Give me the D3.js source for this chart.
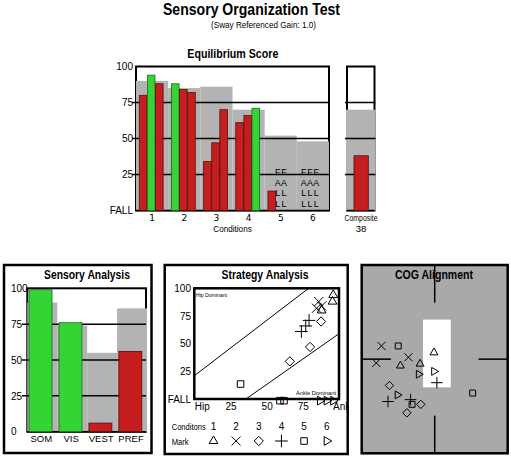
<!DOCTYPE html>
<html><head><meta charset="utf-8">
<script src="https://cdn.jsdelivr.net/npm/d3@7"></script>
<style>
body{margin:0;background:#fff}
text{font-family:"Liberation Sans Narrow","Arial Narrow","Liberation Sans",Arial,sans-serif}
</style></head><body>
<svg id="c" width="511" height="459"></svg>
<script>
// ---------------- DATA ----------------
const conditions = ["1","2","3","4","5","6"];
const normScores = [90, 85, 86, 70, 52, 48];
// null = FALL
const trialScores = [[80,94,88],[88,84,82],[34,47,70],[61,66,71],[13.5,null,null],[null,null,null]];
const compositeLabel = "Composite";
const compositeScore = 38;
const compositeNorm = 70;
const eqTicks = [0,25,50,75,100];
const eqTickLabels = ["FALL","25","50","75","100"];

const sensoryCats = ["SOM","VIS","VEST","PREF"];
const sensoryValues = [99, 76, 6, 56];
const sensoryNorms = [90, 74, 55, 86];
const sensoryTicks = [0,25,50,75,100];

// strategy score per condition/trial (x); equilibrium score from trialScores (y)
const strategyScores = [[88,96,95.5],[86,88,84.5],[66,80,87.6],[74,77,79.3],[32,59.2,62],[86.9,91.5,96]];
const stratXTicks = [0,25,50,75,100];
const stratXLabels = ["Hip","25","50","75","Ank"];
const stratYTicks = [0,25,50,75,100];
const stratYLabels = ["FALL","25","50","75","100"];
const hipBoundary = [[0,21],[79,100]];
const ankleBoundary = [[35.7,0],[100,59]];
const legendConditions = ["1","2","3","4","5","6"];

// COG positions per condition/trial
const cogX = [[-4.7,-2.0,-0.1],[-7.3,-8.0,-3.6],[-6.2,-1.9,-3.8],[-6.4,-3.3,0.3],[-5.0,-3.1,5.2],[-2.2,-5.1,-0.1]];
const cogY = [[-0.7,-0.5,0.7],[1.4,-0.4,0.2],[-2.8,-4.8,-5.7],[-4.5,-4.3,-2.5],[1.4,-4.8,-3.6],[-1.6,-3.8,-1.3]];
const cogLimitX = [-1.6, 2.2];
const cogLimitY = [-3.0, 4.2];
const cogCross = [-10, -6, 6, 10];

// ---------------- DRAW ----------------
const svg = d3.select("#c");
const RED="#c41e1e", RED_S="#5a0c0c", GREEN="#35d435", GREEN_S="#1d6b1d", GRAY="#b3b3b3";

function txt(g, x, y, s, size, opts={}) {
  const t = g.append("text").attr("x",x).attr("y",y).text(s)
    .attr("font-size",size).attr("text-anchor",opts.anchor||"middle")
    .attr("dominant-baseline","central").attr("fill","#000");
  if (opts.bold) t.attr("font-weight","bold");
  if (opts.len) t.attr("textLength",opts.len).attr("lengthAdjust","spacingAndGlyphs");
  if (opts.family) t.style("font-family",opts.family);
  return t;
}

txt(svg, 251.5, 9, "Sensory Organization Test", 16, {bold:true,len:177});
txt(svg, 263.5, 25, "(Sway Referenced Gain: 1.0)", 9, {len:105});
txt(svg, 232.8, 54, "Equilibrium Score", 12.5, {bold:true,len:91});

// --- Equilibrium score chart
const x = d3.scaleBand().domain(conditions).range([136,329]);
const y = d3.scaleLinear().domain([0,100]).range([210.5,66.5]);
const inner = d3.scaleBand().domain([0,1,2]).range([3.3,27.6]);
const eq = svg.append("g");
eq.append("rect").attr("x",x.range()[0]).attr("y",y(100)).attr("width",x.range()[1]-x.range()[0])
  .attr("height",y(0)-y(100)).attr("fill","#fff").attr("stroke","#000").attr("stroke-width",2);
eq.selectAll(".norm").data(conditions).join("rect")
  .attr("x",d=>x(d)).attr("width",x.bandwidth()).attr("y",(d,i)=>y(normScores[i]))
  .attr("height",(d,i)=>y(0)-y(normScores[i])).attr("fill",GRAY);
// composite panel
const xc = d3.scaleBand().domain([compositeLabel]).range([347,374.5]);
eq.append("rect").attr("x",xc(compositeLabel)).attr("y",y(100)).attr("width",xc.bandwidth())
  .attr("height",y(0)-y(100)).attr("fill","#fff").attr("stroke","#000").attr("stroke-width",2);
eq.append("rect").attr("x",xc(compositeLabel)-1).attr("width",xc.bandwidth()+2).attr("y",y(compositeNorm))
  .attr("height",y(0)-y(compositeNorm)).attr("fill",GRAY);
// grid lines
[25,50,75].forEach(v=>{
  eq.append("line").attr("x1",132).attr("x2",x.range()[1]).attr("y1",y(v)).attr("y2",y(v)).attr("stroke","#000").attr("stroke-width",1.5);
  eq.append("line").attr("x1",xc.range()[0]-2).attr("x2",xc.range()[1]+1).attr("y1",y(v)).attr("y2",y(v)).attr("stroke","#000").attr("stroke-width",1.5);
});
eq.append("line").attr("x1",x.range()[0]).attr("x2",x.range()[1]).attr("y1",y(0)).attr("y2",y(0)).attr("stroke","#000").attr("stroke-width",1.5);
eq.append("line").attr("x1",xc.range()[0]).attr("x2",xc.range()[1]).attr("y1",y(0)).attr("y2",y(0)).attr("stroke","#000").attr("stroke-width",1.5);
// trial bars
conditions.forEach((c,i)=>{
  trialScores[i].forEach((v,j)=>{
    if (v===null) {
      const lx = x(c) + 7 + 6.2*j;
      ["F","A","L","L"].forEach((ch,k)=>{
        txt(eq, lx, y(0)-6.5-10.7*(3-k), ch, 9, {family:'"Liberation Sans",Arial,sans-serif'});
      });
    } else {
      const g = v >= normScores[i];
      eq.append("rect").attr("x",x(c)+inner(j)).attr("width",inner.bandwidth()-0.5)
        .attr("y",y(v)).attr("height",y(0)-y(v))
        .attr("fill",g?GREEN:RED).attr("stroke",g?GREEN_S:RED_S).attr("stroke-width",0.8);
    }
  });
});
eq.append("rect").attr("x",354).attr("width",14.3).attr("y",y(compositeScore)).attr("height",y(0)-y(compositeScore))
  .attr("fill",compositeScore>=compositeNorm?GREEN:RED).attr("stroke",RED_S).attr("stroke-width",0.8);
// axes
const yAx = eq.append("g").attr("transform","translate(134,0)")
  .call(d3.axisLeft(y).tickValues(eqTicks).tickFormat((d,i)=>eqTickLabels[i]).tickSize(0).tickPadding(1));
yAx.select(".domain").remove();
yAx.selectAll("text").attr("font-size",10).style("font-family",'"Liberation Sans",Arial,sans-serif');
const xAx = eq.append("g").attr("transform",`translate(0,${y(0)})`)
  .call(d3.axisBottom(x).tickSize(0).tickPadding(4));
xAx.select(".domain").remove();
xAx.selectAll("text").attr("font-size",9).style("font-family",'"DejaVu Sans",sans-serif');
txt(eq, 232.5, 228.3, "Conditions", 9.5, {len:38.5});
txt(eq, 361, 217.7, compositeLabel, 9.5, {len:33});
txt(eq, 361, 228.3, String(compositeScore), 9.5);

// --- Sensory Analysis
const sp = svg.append("g");
sp.append("rect").attr("x",4).attr("y",265).attr("width",147.5).attr("height",188).attr("fill","#fff").attr("stroke","#000").attr("stroke-width",2.5);
txt(sp, 87, 275, "Sensory Analysis", 12.5, {bold:true,len:86});
const sx = d3.scaleBand().domain(sensoryCats).range([27.3,147]);
const sy = d3.scaleLinear().domain([0,100]).range([431.7,288.3]);
sp.append("rect").attr("x",27.3).attr("y",sy(100)).attr("width",146-27.3).attr("height",sy(0)-sy(100))
  .attr("fill","#fff").attr("stroke","#000").attr("stroke-width",2);
sp.selectAll(".sn").data(sensoryCats).join("rect").attr("x",d=>sx(d)).attr("width",sx.bandwidth())
  .attr("y",(d,i)=>sy(sensoryNorms[i])).attr("height",(d,i)=>sy(0)-sy(sensoryNorms[i])).attr("fill",GRAY);
[25,50,75].forEach(v=>sp.append("line").attr("x1",22).attr("x2",146).attr("y1",sy(v)).attr("y2",sy(v)).attr("stroke","#000").attr("stroke-width",1.5));
sp.append("line").attr("x1",27.3).attr("x2",146).attr("y1",sy(0)).attr("y2",sy(0)).attr("stroke","#000").attr("stroke-width",1.5);
sp.selectAll(".sv").data(sensoryCats).join("rect").attr("x",d=>sx(d)+1.8).attr("width",sx.bandwidth()-7)
  .attr("y",(d,i)=>sy(sensoryValues[i])).attr("height",(d,i)=>sy(0)-sy(sensoryValues[i]))
  .attr("fill",(d,i)=>sensoryValues[i]>=sensoryNorms[i]?GREEN:RED)
  .attr("stroke",(d,i)=>sensoryValues[i]>=sensoryNorms[i]?GREEN_S:RED_S).attr("stroke-width",0.8);
const syAx = sp.append("g").attr("transform","translate(11,0)")
  .call(d3.axisRight(sy).tickValues(sensoryTicks).tickSize(0).tickPadding(0));
syAx.select(".domain").remove();
syAx.selectAll("text").attr("font-size",10).style("font-family",'"Liberation Sans",Arial,sans-serif');
const sxAx = sp.append("g").attr("transform",`translate(-1,${sy(0)})`).call(d3.axisBottom(sx).tickSize(0).tickPadding(4));
sxAx.select(".domain").remove();
sxAx.selectAll("text").attr("font-size",9.5);

// --- Strategy Analysis
const st = svg.append("g");
svg.append("defs").append("clipPath").attr("id","stclip").append("rect")
  .attr("x",164.7).attr("y",265).attr("width",183).attr("height",189);
st.append("rect").attr("x",164.7).attr("y",265).attr("width",183).attr("height",189).attr("fill","#fff").attr("stroke","#000").attr("stroke-width",2.5);
txt(st, 265, 275, "Strategy Analysis", 12.5, {bold:true,len:87});
const tx = d3.scaleLinear().domain([0,100]).range([194.3,339]);
const ty = d3.scaleLinear().domain([0,100]).range([399,288.3]);
st.append("rect").attr("x",tx(0)).attr("y",ty(100)).attr("width",tx(100)-tx(0)).attr("height",ty(0)-ty(100))
  .attr("fill","#fff").attr("stroke","#000").attr("stroke-width",2.5);
const ln = d3.line().x(d=>tx(d[0])).y(d=>ty(d[1]));
st.append("path").attr("d",ln(hipBoundary)).attr("fill","none").attr("stroke","#000").attr("stroke-width",1);
st.append("path").attr("d",ln(ankleBoundary)).attr("fill","none").attr("stroke","#000").attr("stroke-width",1);
txt(st, 196, 294.5, "Hip Dominant", 5, {anchor:"start",len:31});
txt(st, 296, 392.5, "Ankle Dominant", 5, {anchor:"start",len:40});
const tyAx = st.append("g").attr("transform","translate(191,0)")
  .call(d3.axisLeft(ty).tickValues(stratYTicks).tickFormat((d,i)=>stratYLabels[i]).tickSize(0).tickPadding(0));
tyAx.select(".domain").remove();
tyAx.selectAll("text").attr("font-size",10).style("font-family",'"Liberation Sans",Arial,sans-serif');
const txAx = st.append("g").attr("clip-path","url(#stclip)").append("g").attr("transform",`translate(0,${ty(0)+4})`)
  .call(d3.axisBottom(tx).tickValues(stratXTicks).tickFormat((d,i)=>stratXLabels[i]).tickSize(0).tickPadding(0));
txAx.select(".domain").remove();
txAx.selectAll("text").attr("font-size",10).attr("fill","#000").style("font-family",'"Liberation Sans",Arial,sans-serif');
txAx.selectAll("text").filter((d,i)=>i===0).attr("text-anchor","start");
txAx.selectAll("text").filter((d,i)=>i===4).attr("text-anchor","start").attr("x",-6.5);

const symTypes = [d3.symbolTriangle2, d3.symbolTimes, d3.symbolDiamond2, d3.symbolPlus, d3.symbolSquare2, d3.symbolTriangle2];
const symRot = [0,0,0,0,0,90];
function mark(g, i, px, py, size) {
  g.append("path").attr("d",d3.symbol(symTypes[i], size)())
    .attr("transform",`translate(${px},${py}) rotate(${symRot[i]})`)
    .attr("fill","none").attr("stroke","#000").attr("stroke-width",1);
}
strategyScores.forEach((row,i)=>row.forEach((sv,j)=>{
  const eqv = trialScores[i][j]===null ? -1.5 : trialScores[i][j];
  mark(st, i, tx(sv), ty(eqv), 55);
}));
txt(st, 171.7, 426.7, "Conditons", 9, {anchor:"start",len:34});
txt(st, 171.7, 441, "Mark", 9.5, {anchor:"start",len:17});
const lx = d3.scalePoint().domain(legendConditions).range([213.5,326.7]);
legendConditions.forEach((c,i)=>{
  txt(st, lx(c), 426.7, c, 10);
  mark(st, i, lx(c), 441, 55);
});

// --- COG Alignment
const cg = svg.append("g");
const cx = d3.scaleLinear().domain([-10,10]).range([361.7,507.7]);
const cy = d3.scaleLinear().domain([-10,10]).range([453.3,265]);
cg.append("rect").attr("x",cx(-10)).attr("y",cy(10)).attr("width",cx(10)-cx(-10)).attr("height",cy(-10)-cy(10))
  .attr("fill","#a9a9a9").attr("stroke","#000").attr("stroke-width",2.5);
cg.append("rect").attr("x",cx(cogLimitX[0])).attr("y",cy(cogLimitY[1])).attr("width",cx(cogLimitX[1])-cx(cogLimitX[0]))
  .attr("height",cy(cogLimitY[0])-cy(cogLimitY[1])).attr("fill","#fff");
[[cogCross[0],cogCross[1]],[cogCross[2],cogCross[3]]].forEach(([a,b])=>{
  cg.append("line").attr("x1",cx(0)).attr("x2",cx(0)).attr("y1",cy(a)).attr("y2",cy(b)).attr("stroke","#000").attr("stroke-width",1.5);
  cg.append("line").attr("y1",cy(0)).attr("y2",cy(0)).attr("x1",cx(a)).attr("x2",cx(b)).attr("stroke","#000").attr("stroke-width",1.5);
});
txt(cg, 434, 275, "COG Alignment", 12.5, {bold:true,len:78});
cogX.forEach((row,i)=>row.forEach((v,j)=>mark(cg, i, cx(v), cy(cogY[i][j]), 45)));
</script></body></html>
